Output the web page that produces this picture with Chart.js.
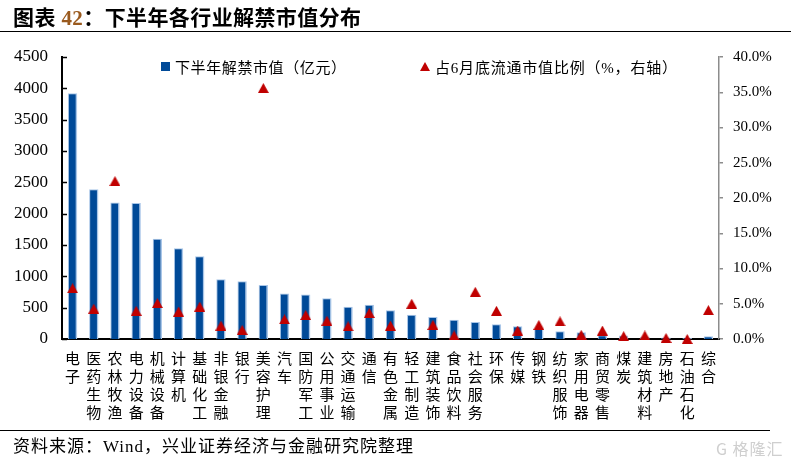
<!DOCTYPE html>
<html>
<head>
<meta charset="utf-8">
<script src="https://cdn.jsdelivr.net/npm/chart.js@4.4.1/dist/chart.umd.min.js"></script>
<style>
  html, body { margin: 0; padding: 0; background: #fff; }
  #wrap { position: relative; width: 791px; height: 464px; overflow: hidden; font-family: "Liberation Serif", "Noto Sans CJK SC", serif; }
  #chart { position: absolute; left: 0; top: 0; }
  .title { position: absolute; left: 13px; top: 1px; font-size: 21px; font-weight: bold; letter-spacing: 0.4px; color: #000; font-family: "Liberation Serif", "Noto Sans CJK SC", serif; }
  .title .num { color: #9a5a1e; }
  .rule { position: absolute; left: 0; height: 1px; background: #000; }
  .legend { position: absolute; top: 56px; font-size: 15px; color: #000; white-space: nowrap; display: flex; align-items: center; }
  .legend .mark { margin-right: 5px; }
  .source { position: absolute; left: 13px; top: 432px; font-size: 17px; letter-spacing: 1px; color: #000; }
  .wm { position: absolute; left: 716px; top: 436px; font-size: 16px; color: #cfcfcf; font-family: "Noto Sans CJK SC", sans-serif; letter-spacing: 1px; }
</style>
</head>
<body>
<div id="wrap">
  <canvas id="chart" width="791" height="464"></canvas>
  <div class="title">图表 <span class="num">42</span>：下半年各行业解禁市值分布</div>
  <div class="rule" style="top:31px;width:791px;"></div>
  <div class="legend" style="left:161px;letter-spacing:0.6px;">
    <svg class="mark" width="9" height="9"><rect x="0" y="0" width="9" height="9" fill="#004a98"/></svg>
    <span>下半年解禁市值（亿元）</span>
  </div>
  <div class="legend" style="left:420px;letter-spacing:0.8px;">
    <svg class="mark" width="10" height="9"><polygon points="0,9 5,0 10,9" fill="#c00000"/></svg>
    <span>占6月底流通市值比例（%，右轴）</span>
  </div>
  <div class="rule" style="top:430px;width:770px;"></div>
  <div class="source">资料来源：Wind，兴业证券经济与金融研究院整理</div>
  <div class="wm">G 格隆汇</div>
</div>
<script>
// 行业
const categories = ['电子', '医药生物', '农林牧渔', '电力设备', '机械设备', '计算机', '基础化工', '非银金融', '银行', '美容护理',
  '汽车', '国防军工', '公用事业', '交通运输', '通信', '有色金属', '轻工制造', '建筑装饰', '食品饮料', '社会服务',
  '环保', '传媒', '钢铁', '纺织服饰', '家用电器', '商贸零售', '煤炭', '建筑材料', '房地产', '石油石化', '综合'];

// 下半年解禁市值（亿元）
const unlockValue = [3920, 2390, 2180, 2170, 1600, 1450, 1320, 955, 920, 860,
  725, 710, 650, 515, 545, 460, 388, 351, 308, 271,
  234, 202, 160, 122, 107, 60, 55, 35, 25, 15, 42];

// 占6月底流通市值比例（%）
const floatRatio = [7.2, 4.3, 22.4, 4.0, 5.1, 3.9, 4.6, 1.9, 1.3, 35.6,
  2.8, 3.4, 2.6, 1.8, 3.7, 1.9, 5.0, 2.0, 0.5, 6.7,
  4.0, 1.2, 2.0, 2.5, 0.6, 1.2, 0.4, 0.5, 0.15, 0.0, 4.1];

const leftTicks = { min: 0, max: 4500, step: 500 };
const rightTicks = { min: 0, max: 40, step: 5 };

// triangle marker centred on its box, like the Excel one
const tri = document.createElement('canvas');
tri.width = 11;
tri.height = 10;
const tctx = tri.getContext('2d');
tctx.fillStyle = '#c00000';
tctx.beginPath();
tctx.moveTo(0, 10);
tctx.lineTo(5.5, 0);
tctx.lineTo(11, 10);
tctx.closePath();
tctx.fill();

// left axis has its tick marks pointing inward
const innerTicks = {
  id: 'innerTicks',
  afterDraw(chart) {
    const y = chart.scales.y;
    const ctx = chart.ctx;
    ctx.save();
    ctx.strokeStyle = '#000';
    ctx.lineWidth = 1.5;
    y.ticks.forEach(t => {
      const py = Math.round(y.getPixelForValue(t.value)) + 0.5;
      ctx.beginPath();
      ctx.moveTo(y.right, py);
      ctx.lineTo(y.right + 5, py);
      ctx.stroke();
    });
    ctx.restore();
  }
};

new Chart(document.getElementById('chart'), {
  data: {
    labels: categories.map(c => c.split('')),
    datasets: [
      {
        type: 'line',
        label: '占6月底流通市值比例（%，右轴）',
        data: floatRatio,
        showLine: false,
        pointStyle: tri,
        pointRadius: 6,
        clip: false,
        yAxisID: 'y1',
        order: 1,
      },
      {
        type: 'bar',
        label: '下半年解禁市值（亿元）',
        data: unlockValue,
        backgroundColor: '#004a98',
        borderColor: '#a9c6e8',
        borderWidth: { top: 1, left: 1, right: 1.5, bottom: 0 },
        borderSkipped: 'bottom',
        categoryPercentage: 1,
        barPercentage: 0.44,
        yAxisID: 'y',
        order: 2,
      }
    ],
  },
  options: {
    responsive: false,
    animation: false,
    layout: { padding: { top: 57, left: 0, right: 0, bottom: 0 } },
    plugins: { legend: { display: false }, tooltip: { enabled: false } },
    scales: {
      x: {
        grid: { display: false, drawTicks: false },
        border: { display: true, color: '#000', width: 2 },
        ticks: {
          autoSkip: false,
          maxRotation: 0,
          minRotation: 0,
          padding: 10,
          color: '#000',
          font: { family: '"Noto Sans CJK SC"', size: 15, lineHeight: 1.2 },
        },
        afterFit: s => { s.height = 125; },
      },
      y: {
        position: 'left',
        min: leftTicks.min,
        max: leftTicks.max,
        grid: { display: false, drawTicks: false },
        border: { display: true, color: '#000', width: 2 },
        ticks: {
          stepSize: leftTicks.step,
          padding: 14,
          color: '#000',
          font: { family: '"Liberation Serif"', size: 17 },
          callback: v => String(v),
        },
        afterFit: s => { s.width = 62; },
      },
      y1: {
        position: 'right',
        min: rightTicks.min,
        max: rightTicks.max,
        grid: { display: true, drawOnChartArea: false, drawTicks: true, tickLength: 4, color: '#8c8c8c', lineWidth: 1.5 },
        border: { display: true, color: '#8c8c8c', width: 1.5 },
        ticks: {
          stepSize: rightTicks.step,
          padding: 10,
          color: '#000',
          font: { family: '"Liberation Serif"', size: 15 },
          callback: v => v.toFixed(1) + '%',
        },
        afterFit: s => { s.width = 72; },
      },
    },
  },
  plugins: [innerTicks],
});
</script>
</body>
</html>
